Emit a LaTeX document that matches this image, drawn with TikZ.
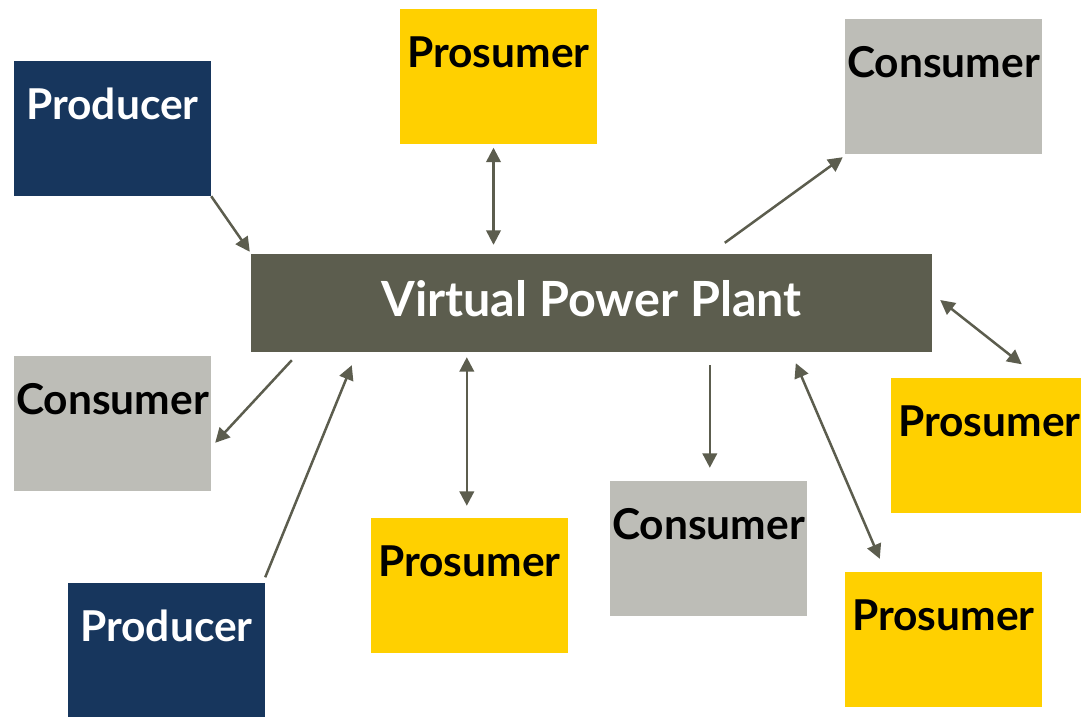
\documentclass[tikz,border=0pt]{standalone}
\usepackage{fontspec}
\setmainfont{Lato}
\usetikzlibrary{arrows.meta,calc}
\definecolor{navy}{HTML}{17365D}
\definecolor{sun}{HTML}{FFD000}
\definecolor{stone}{HTML}{BDBDB7}
\definecolor{olive}{HTML}{5C5D4E}
\tikzset{
  box/.style={rectangle, inner sep=0pt, minimum width=197pt, minimum height=135pt,
    font=\fontsize{42.5}{46}\selectfont\bfseries, text height=30.5pt, text depth=48pt},
  producer/.style={box, fill=navy, text=white},
  prosumer/.style={box, fill=sun, text=black},
  consumer/.style={box, fill=stone, text=black},
  hub/.style={rectangle, inner sep=0pt, fill=olive, text=white, minimum width=681pt,
    minimum height=98pt, font=\fontsize{48.5}{52}\selectfont\bfseries,
    text height=35pt, text depth=9pt},
  tip/.tip={Triangle[length=14.5pt,width=14.5pt]},
  flow/.style={draw=olive, line width=2.5pt, -tip},
  both/.style={draw=olive, line width=2.5pt, tip-tip},
}
\begin{document}
\begin{tikzpicture}[x=1pt,y=-1pt]
\useasboundingbox (0,0) rectangle (1081,716);
% central plant
\node[hub] (vpp) at (591.5,303) {Virtual Power Plant};
% participants
\node[producer] (prod1) at (112.5,128.5) {Producer};
\node[prosumer] (ptop) at (498.5,76) {Prosumer};
\node[consumer] (ctr) at (943.5,86.5) {Consumer};
\node[consumer] (cl) at (112.5,423.5) {Consumer};
\node[prosumer] (pr) at (989.5,445) {Prosumer};
\node[prosumer] (pb) at (469.5,585.5) {Prosumer};
\node[consumer] (cb) at (708.5,548.5) {Consumer};
\node[prosumer] (pbr) at (943.5,639.5) {Prosumer};
\node[producer] (prodb) at (166.5,650) {Producer};
% energy flows
\draw[flow] (prod1.south east) -- ([shift={(-1,-2)}]vpp.north west);
\draw[both] ([shift={(-5,4)}]ptop.south) -- ([shift={(-5,-9)}]ptop.south |- vpp.north);
\draw[flow] ([shift={(474,-11)}]vpp.north west) -- ([shift={(-2,3)}]ctr.south west);
\draw[both] ([shift={(8,-3)}]vpp.east) -- ([shift={(131,-13)}]pr.north west);
\draw[flow] ([shift={(41,8)}]vpp.south west) -- ([shift={(4,87)}]cl.north east);
\draw[flow] ([shift={(0,-5)}]prodb.north east) -- ([shift={(101,13)}]vpp.south west);
\draw[both] ([shift={(216,5)}]vpp.south west) -- ([shift={(96,-12)}]pb.north west);
\draw[flow] ([shift={(459,13)}]vpp.south west) -- ([shift={(100,-13)}]cb.north west);
\draw[both] ([shift={(545,11)}]vpp.south west) -- ([shift={(35,-13)}]pbr.north west);
\end{tikzpicture}
\end{document}
